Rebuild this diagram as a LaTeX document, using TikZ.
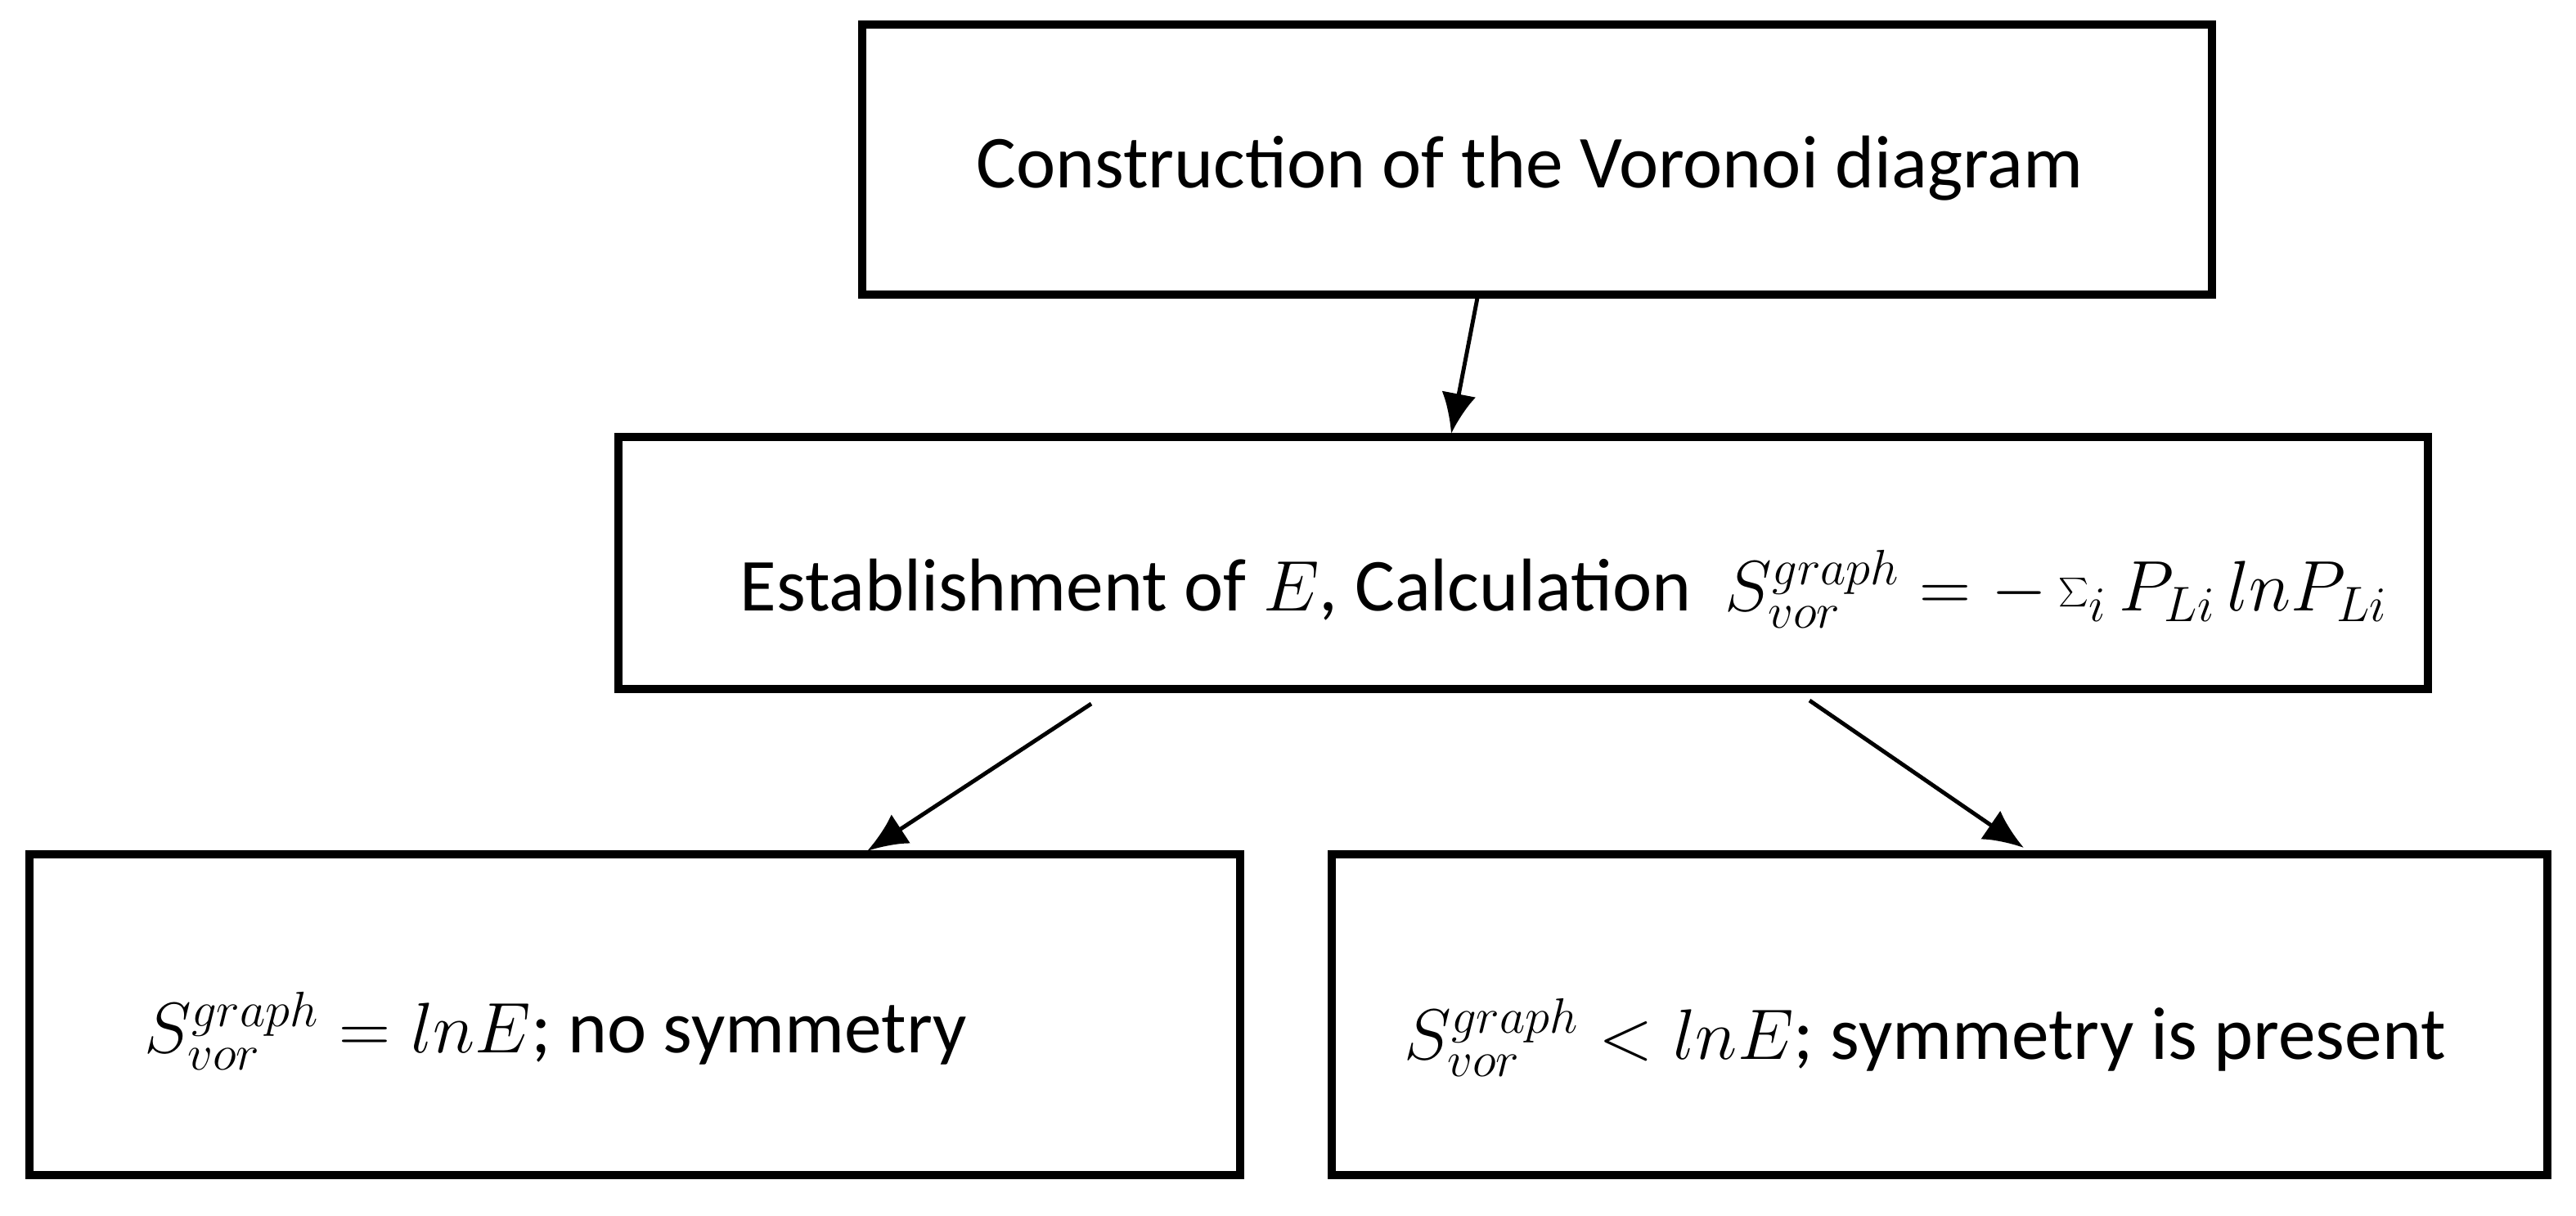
\documentclass[tikz,border=0pt]{standalone}
\usepackage{fontspec}
\setmainfont{Carlito}
\usetikzlibrary{arrows.meta}
\begin{document}
\begin{tikzpicture}[x=0.02cm,y=-0.02cm,
  box/.style={draw,line width=2.6pt},
  arr/.style={line width=1.4pt,-{Latex[length=14pt,width=12pt]}},
  txt/.style={font=\fontsize{26}{30}\selectfont,inner sep=0pt}]
\useasboundingbox (0,0) rectangle (1574.5,742.5);
\draw[box] (527,15) rectangle (1352,180);
\draw[box] (378,267) rectangle (1484,421);
\draw[box] (18,522) rectangle (758,718);
\draw[box] (814,522) rectangle (1557,718);
\node[txt] (t1) at (935,103) {Construction of the Voronoi diagram};
\node[txt,anchor=west] (t2) at (452,360) {Establishment of $E$, Calculation \ $S^{graph}_{vor}=-\textstyle\sum_i P_{Li}\,lnP_{Li}$};
\node[txt,anchor=west] (t3) at (88,630) {$S^{graph}_{vor}=lnE$; no symmetry};
\node[txt,anchor=west] (t4) at (858,634) {$S^{graph}_{vor}<lnE$; symmetry is present};
\coordinate (a1) at (903,182); \coordinate (b1) at (887,265);
\coordinate (a2) at (667,430); \coordinate (b2) at (530,520);
\coordinate (a3) at (1106,428); \coordinate (b3) at (1237,518);
\draw[arr] (a1) -- (b1);
\draw[arr] (a2) -- (b2);
\draw[arr] (a3) -- (b3);
\end{tikzpicture}
\end{document}
